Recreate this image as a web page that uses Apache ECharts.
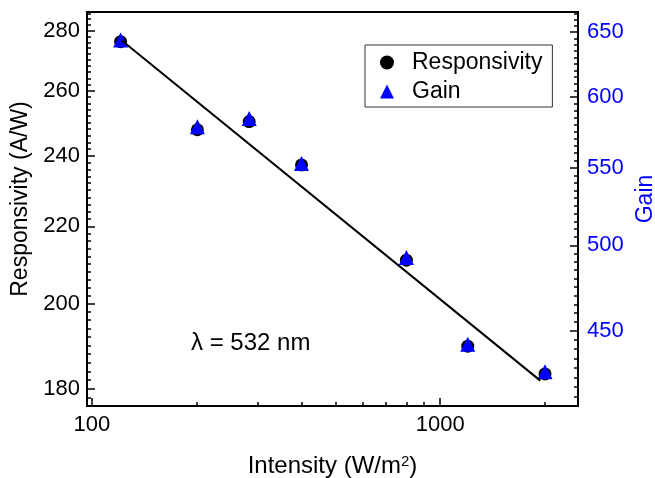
<!DOCTYPE html>
<html>
<head>
<meta charset="utf-8">
<script src="https://cdn.jsdelivr.net/npm/echarts@6/dist/echarts.min.js"></script>
<style>
html,body{margin:0;padding:0;background:#fff;}
#chart{width:655px;height:478px;}
</style>
</head>
<body>
<div id="chart"></div>
<script>
// ---- data ----
const intensity    = [121, 201, 283, 400, 800, 1200, 2000];          // W/m^2
const responsivity = [276.2, 247.8, 250.3, 237.3, 211.0, 189.8, 183.4]; // A/W
const gain         = [643.7, 578.6, 584.4, 553.0, 492.5, 442.7, 427.9];
const fitIntensity = [121.7, 1938];
const fitResp      = [276.7, 181.9];
const xMajorTicks  = [100, 1000];
const xMinorTicks  = [200, 300, 400, 500, 600, 700, 800, 900, 2000];
const rMajorTicks  = [180, 200, 220, 240, 260, 280];
const gMajorTicks  = [450, 500, 550, 600, 650];
const annotation   = 'λ = 532 nm';

const L = Math.log10;
const xRange = [96.9, 2487];
const rRange = [176.3, 286.5];
const gRange = [410.3, 666.3];

function minors(from, to, step, majors) {
  const out = [];
  for (let v = from; v <= to + 1e-9; v += step) {
    if (majors.indexOf(v) < 0) out.push(v);
  }
  return out;
}
const rMinorTicks = minors(178, 286, 2, rMajorTicks);
const gMinorTicks = minors(415, 665, 5, gMajorTicks);

const FONT = "'Liberation Sans', Arial, sans-serif";
const fmt = v => String(Math.round(Math.pow(10, v)));

function baseAxis(range) {
  return {
    type: 'value', min: L(range[0]), max: L(range[1]),
    splitLine: {show: false},
    axisLine: {show: true, onZero: false, lineStyle: {color: '#000', width: 2}},
  };
}

const chart = echarts.init(document.getElementById('chart'), null, {renderer: 'canvas'});
chart.setOption({
  animation: false,
  backgroundColor: '#fff',
  textStyle: {fontFamily: FONT},
  grid: {left: 87, right: 77, top: 12, bottom: 72, outerBoundsMode: 'none', containLabel: false,
         show: true, borderColor: '#000', borderWidth: 2, backgroundColor: 'transparent'},
  legend: {
    data: [{name: 'Responsivity', icon: 'circle'}, {name: 'Gain', icon: 'triangle'}],
    orient: 'vertical', left: 365, top: 45,
    itemWidth: 14, itemHeight: 14, itemGap: 6,
    padding: [6, 10, 4, 15],
    borderColor: '#333', borderWidth: 1, borderRadius: 0,
    itemStyle: {opacity: 1},
    textStyle: {fontSize: 23, color: '#000', fontFamily: FONT, padding: [0, 0, 0, 13]},
  },
  graphic: [{
    type: 'text', left: 191, top: 331,
    style: {text: annotation, fontSize: 24, fill: '#000', fontFamily: FONT}
  }],
  xAxis: [
    Object.assign(baseAxis(xRange), {
      position: 'bottom',
      name: 'Intensity (W/m{sup|2})', nameLocation: 'middle', nameGap: 48,
      nameTextStyle: {fontSize: 24, color: '#000', fontFamily: FONT,
        rich: {sup: {fontSize: 15, verticalAlign: 'top', color: '#000', fontFamily: FONT}}},
      axisTick: {show: true, inside: true, length: 8, lineStyle: {color: '#000', width: 1.5}, customValues: xMajorTicks.map(L)},
      axisLabel: {show: true, fontSize: 22, color: '#000', margin: 8, formatter: fmt, customValues: xMajorTicks.map(L)}
    }),
    Object.assign(baseAxis(xRange), {
      position: 'bottom',
      axisLine: {show: false, onZero: false},
      axisTick: {show: true, inside: true, length: 4, lineStyle: {color: '#000', width: 1.5}, customValues: xMinorTicks.map(L)},
      axisLabel: {show: false}
    })
  ],
  yAxis: [
    Object.assign(baseAxis(rRange), {
      position: 'left',
      name: 'Responsivity (A/W)', nameLocation: 'middle', nameGap: 53,
      nameTextStyle: {fontSize: 23, color: '#000', fontFamily: FONT, padding: [0, 0, 0, 20]},
      axisTick: {show: true, inside: true, length: 8, lineStyle: {color: '#000', width: 1.5}, customValues: rMajorTicks.map(L)},
      axisLabel: {show: true, fontSize: 22, color: '#000', margin: 7, formatter: fmt, customValues: rMajorTicks.map(L)}
    }),
    Object.assign(baseAxis(rRange), {
      position: 'left',
      axisLine: {show: false, onZero: false},
      axisTick: {show: true, inside: true, length: 4, lineStyle: {color: '#000', width: 1.5}, customValues: rMinorTicks.map(L)},
      axisLabel: {show: false}
    }),
    Object.assign(baseAxis(gRange), {
      position: 'right',
      name: 'Gain', nameLocation: 'middle', nameGap: 56,
      nameTextStyle: {fontSize: 23, color: '#0000ff', fontFamily: FONT, padding: [0, 0, 0, 20]},
      axisTick: {show: true, inside: true, length: 8, lineStyle: {color: '#000', width: 1.5}, customValues: gMajorTicks.map(L)},
      axisLabel: {show: true, fontSize: 22, color: '#0000ff', margin: 9, formatter: fmt, customValues: gMajorTicks.map(L)}
    }),
    Object.assign(baseAxis(gRange), {
      position: 'right',
      axisLine: {show: false, onZero: false},
      axisTick: {show: true, inside: true, length: 4, lineStyle: {color: '#000', width: 1.5}, customValues: gMinorTicks.map(L)},
      axisLabel: {show: false}
    })
  ],
  series: [
    {
      name: 'Responsivity', type: 'scatter', xAxisIndex: 0, yAxisIndex: 0,
      symbol: 'circle', symbolSize: 13,
      itemStyle: {color: '#000', opacity: 1},
      data: intensity.map((x, i) => [L(x), L(responsivity[i])]),
      z: 2
    },
    {
      name: 'Gain', type: 'scatter', xAxisIndex: 0, yAxisIndex: 2,
      symbol: 'triangle', symbolSize: 15,
      itemStyle: {color: '#0000ff', opacity: 1},
      data: intensity.map((x, i) => [L(x), L(gain[i])]),
      z: 3
    },
    {
      name: 'fit', type: 'line', xAxisIndex: 0, yAxisIndex: 0,
      showSymbol: false, symbol: 'none', silent: true,
      lineStyle: {color: '#000', width: 2},
      data: fitIntensity.map((x, i) => [L(x), L(fitResp[i])]),
      z: 4
    }
  ]
});
</script>
</body>
</html>
